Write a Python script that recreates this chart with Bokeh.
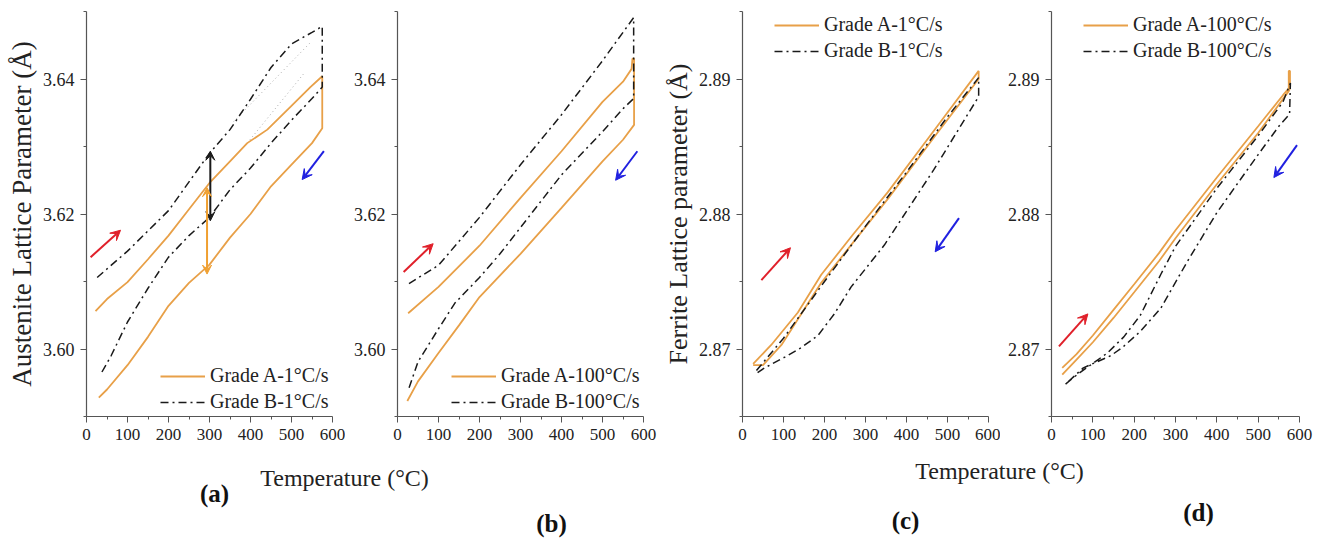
from bokeh.plotting import figure
from bokeh.models import Range1d, FixedTicker, Legend, LegendItem, Arrow, VeeHead, Label, PrintfTickFormatter
from bokeh.layouts import row, column
from bokeh.embed import file_html
from bokeh.resources import INLINE

# ---------------- data (temperature in °C, lattice parameter in Å) ----------------
# (a) Austenite, 1 °C/s
a_A_T = [22, 50, 100, 150, 200, 250, 300, 350, 392, 441, 498, 546, 573, 575, 575, 550, 500, 450, 400, 350, 300, 250, 200, 150, 100, 50, 30]
a_A_Y = [3.6056, 3.6074, 3.6099, 3.6133, 3.6168, 3.6207, 3.6246, 3.6278, 3.6305, 3.6325, 3.6359, 3.6388, 3.6403, 3.6404, 3.6327, 3.6305, 3.6273, 3.6241, 3.6200, 3.6165, 3.6125, 3.6098, 3.6064, 3.6018, 3.5976, 3.5940, 3.5928]
a_B_T = [26, 100, 200, 300, 350, 400, 450, 500, 550, 575, 575, 550, 500, 450, 400, 350, 300, 250, 200, 150, 100, 60, 34]
a_B_Y = [3.6106, 3.6145, 3.6205, 3.6290, 3.6325, 3.6370, 3.6417, 3.6452, 3.6469, 3.6478, 3.6388, 3.6371, 3.6339, 3.6305, 3.6268, 3.6236, 3.6195, 3.6168, 3.6136, 3.6090, 3.6040, 3.5990, 3.5962]
a_dot1_T = [359, 546]
a_dot1_Y = [3.6337, 3.6454]
a_dot2_T = [392, 530]
a_dot2_Y = [3.6305, 3.6408]

# (b) Austenite, 100 °C/s
b_A_T = [26, 100, 200, 300, 400, 500, 550, 571, 573, 577, 577, 550, 500, 400, 300, 200, 150, 100, 50, 24]
b_A_Y = [3.6053, 3.6092, 3.6153, 3.6224, 3.6293, 3.6366, 3.6396, 3.6415, 3.6430, 3.6430, 3.6332, 3.6310, 3.6278, 3.6209, 3.6141, 3.6077, 3.6035, 3.5994, 3.5952, 3.5923]
b_B_T = [28, 100, 200, 300, 400, 500, 576, 576, 550, 500, 400, 300, 250, 200, 140, 100, 50, 28]
b_B_Y = [3.6097, 3.6124, 3.6195, 3.6273, 3.6347, 3.6427, 3.6491, 3.6371, 3.6356, 3.6322, 3.6258, 3.6180, 3.6141, 3.6106, 3.6068, 3.6030, 3.5981, 3.5942]

# (c) Ferrite, 1 °C/s
c_A_T = [26, 70, 135, 192, 270, 354, 475, 576, 576, 475, 354, 270, 192, 135, 95, 50, 26]
c_A_Y = [2.8689, 2.8703, 2.8727, 2.8755, 2.8785, 2.8816, 2.8865, 2.8906, 2.8900, 2.8860, 2.8811, 2.8779, 2.8749, 2.8722, 2.8703, 2.8688, 2.8688]
c_B_T = [34, 100, 200, 300, 400, 500, 576, 576, 467, 346, 265, 224, 184, 143, 103, 54, 30]
c_B_Y = [2.8684, 2.8708, 2.8750, 2.8791, 2.8831, 2.8872, 2.8901, 2.8887, 2.8833, 2.8777, 2.8746, 2.8726, 2.8710, 2.8701, 2.8694, 2.8686, 2.8681]

# (d) Ferrite, 100 °C/s
d_A_T = [26, 60, 100, 150, 200, 260, 300, 400, 500, 560, 574, 574, 577, 577, 574, 500, 400, 300, 260, 200, 150, 100, 60, 26]
d_A_Y = [2.8686, 2.8696, 2.8710, 2.8729, 2.8748, 2.8771, 2.8788, 2.8827, 2.8865, 2.8888, 2.8893, 2.8906, 2.8906, 2.8893, 2.8891, 2.8860, 2.8822, 2.8782, 2.8765, 2.8742, 2.8723, 2.8705, 2.8692, 2.8681]
d_B_T = [34, 66, 94, 135, 175, 215, 264, 300, 400, 500, 560, 578, 576, 550, 500, 400, 329, 264, 215, 171, 143, 77, 34]
d_B_Y = [2.8674, 2.8682, 2.8688, 2.8697, 2.8709, 2.8725, 2.8755, 2.8776, 2.8819, 2.8858, 2.8883, 2.8897, 2.8874, 2.8865, 2.8844, 2.8801, 2.8765, 2.8730, 2.8713, 2.8701, 2.8695, 2.8686, 2.8674]

x_ticks = [0, 100, 200, 300, 400, 500, 600]
x_minor = [50, 150, 250, 350, 450, 550]
aus_ticks = [3.60, 3.62, 3.64]
aus_minor = [3.59, 3.61, 3.63, 3.65]
fer_ticks = [2.87, 2.88, 2.89]
fer_minor = [2.865, 2.875, 2.885, 2.895]

# ---------------- styling ----------------
FONT = "Liberation Serif"
ORANGE = "#E8A048"
BLACK = "#1a1a1a"
RED = "#E0202A"
BLUE = "#2020E0"
AXIS = "#555555"


def panel(width, left, right, yr, ticks, minor, ylabel=None, ylabel_size="24px"):
    p = figure(width=width, height=456, min_border_left=left, min_border_right=right,
               min_border_top=11, min_border_bottom=40,
               x_range=Range1d(0, 600), y_range=Range1d(*yr),
               output_backend="svg", toolbar_location=None)
    p.outline_line_color = None
    p.grid.visible = False
    p.background_fill_color = "white"
    for ax in (p.xaxis[0], p.yaxis[0]):
        ax.axis_line_color = AXIS
        ax.axis_line_width = 1.2
        ax.major_tick_line_color = AXIS
        ax.minor_tick_line_color = AXIS
        ax.major_tick_out = 6
        ax.major_tick_in = 0
        ax.minor_tick_out = 3
        ax.minor_tick_in = 0
        ax.major_label_text_font = FONT
        ax.major_label_text_color = "#222222"
        ax.major_label_standoff = 6
    p.xaxis.major_label_text_font_size = "17px"
    p.yaxis.major_label_text_font_size = "18px"
    p.xaxis.ticker = FixedTicker(ticks=x_ticks, minor_ticks=x_minor)
    p.yaxis.ticker = FixedTicker(ticks=ticks, minor_ticks=minor)
    p.yaxis.formatter = PrintfTickFormatter(format="%.2f")
    if ylabel:
        p.yaxis.axis_label = ylabel
        p.yaxis.axis_label_text_font = FONT
        p.yaxis.axis_label_text_font_style = "normal"
        p.yaxis.axis_label_text_font_size = ylabel_size
        p.yaxis.axis_label_text_color = "#222222"
        p.yaxis.axis_label_standoff = 3
    return p


def curves(p, tA, yA, tB, yB, labA, labB, loc):
    rA = p.line(tA, yA, line_color=ORANGE, line_width=1.8)
    rB = p.line(tB, yB, line_color=BLACK, line_width=1.5, line_dash="8 4 2 4")
    leg = Legend(items=[LegendItem(label=labA, renderers=[rA]), LegendItem(label=labB, renderers=[rB])],
                 location=loc, padding=0, margin=0, spacing=3, label_height=22, glyph_height=22,
                 glyph_width=45, label_standoff=5, border_line_color=None, background_fill_alpha=0,
                 label_text_font=FONT, label_text_font_size="20px", label_text_color="#222222")
    p.add_layout(leg)


def arrow(p, x0, y0, x1, y1, color, double=False, size=10, width=2):
    head = lambda: VeeHead(size=size, fill_color=color, line_color=color)
    a = Arrow(end=head(), start=head() if double else None,
              x_start=x0, y_start=y0, x_end=x1, y_end=y1, line_color=color, line_width=width)
    p.add_layout(a)


pa = panel(345, 86, 13, (3.59, 3.65), aus_ticks, aus_minor, "Austenite Lattice Parameter (Å)", "27px")
pa.line(a_dot1_T, a_dot1_Y, line_color="#aaaaaa", line_dash="1 3", line_width=1)
pa.line(a_dot2_T, a_dot2_Y, line_color="#aaaaaa", line_dash="1 3", line_width=1)
curves(pa, a_A_T, a_A_Y, a_B_T, a_B_Y, "Grade A-1°C/s", "Grade B-1°C/s", (74, 3))
arrow(pa, 10, 3.6136, 83, 3.6176, RED)
arrow(pa, 579, 3.6293, 526, 3.6251, BLUE)
arrow(pa, 302, 3.6190, 302, 3.6293, BLACK, double=True, size=9)
arrow(pa, 294, 3.6111, 294, 3.6239, "#F0A030", double=True, size=9)

pb = panel(315, 52, 17, (3.59, 3.65), aus_ticks, aus_minor)
curves(pb, b_A_T, b_A_Y, b_B_T, b_B_Y, "Grade A-100°C/s", "Grade B-100°C/s", (54, 3))
arrow(pb, 15, 3.6114, 87, 3.6156, RED)
arrow(pb, 585, 3.6293, 532, 3.6250, BLUE)

pc = panel(340, 81, 12, (2.865, 2.895), fer_ticks, fer_minor, "Ferrite Lattice parameter (Å)", "26px")
curves(pc, c_A_T, c_A_Y, c_B_T, c_B_Y, "Grade A-1°C/s", "Grade B-1°C/s", (32, 354))
arrow(pc, 46, 2.8751, 117, 2.8775, RED)
arrow(pc, 528, 2.8797, 470, 2.8772, BLUE)

pd_ = panel(319, 51, 20, (2.865, 2.895), fer_ticks, fer_minor)
curves(pd_, d_A_T, d_A_Y, d_B_T, d_B_Y, "Grade A-100°C/s", "Grade B-100°C/s", (32, 354))
arrow(pd_, 18, 2.8702, 88, 2.8726, RED)
arrow(pd_, 594, 2.8851, 538, 2.8827, BLUE)

# bottom strip with shared axis titles and panel letters
bot = figure(width=1319, height=85, x_range=Range1d(0, 1319), y_range=Range1d(0, 85),
             x_axis_type=None, y_axis_type=None, min_border=0,
             output_backend="svg", toolbar_location=None)
bot.outline_line_color = None
bot.grid.visible = False
for x, y, t in [(344, 64, "Temperature (°C)"), (999, 71, "Temperature (°C)")]:
    bot.add_layout(Label(x=x, y=y, text=t, text_align="center", text_baseline="middle",
                         text_font=FONT, text_font_size="24px", text_color="#222222"))
for x, y, t in [(214, 48, "(a)"), (551, 18, "(b)"), (905, 21, "(c)"), (1198, 29, "(d)")]:
    bot.add_layout(Label(x=x, y=y, text=t, text_align="center", text_baseline="middle",
                         text_font=FONT, text_font_size="25px", text_font_style="bold",
                         text_color="#111111"))

layout = column(row(pa, pb, pc, pd_), bot)
open("out.html", "w").write(file_html(layout, INLINE))
